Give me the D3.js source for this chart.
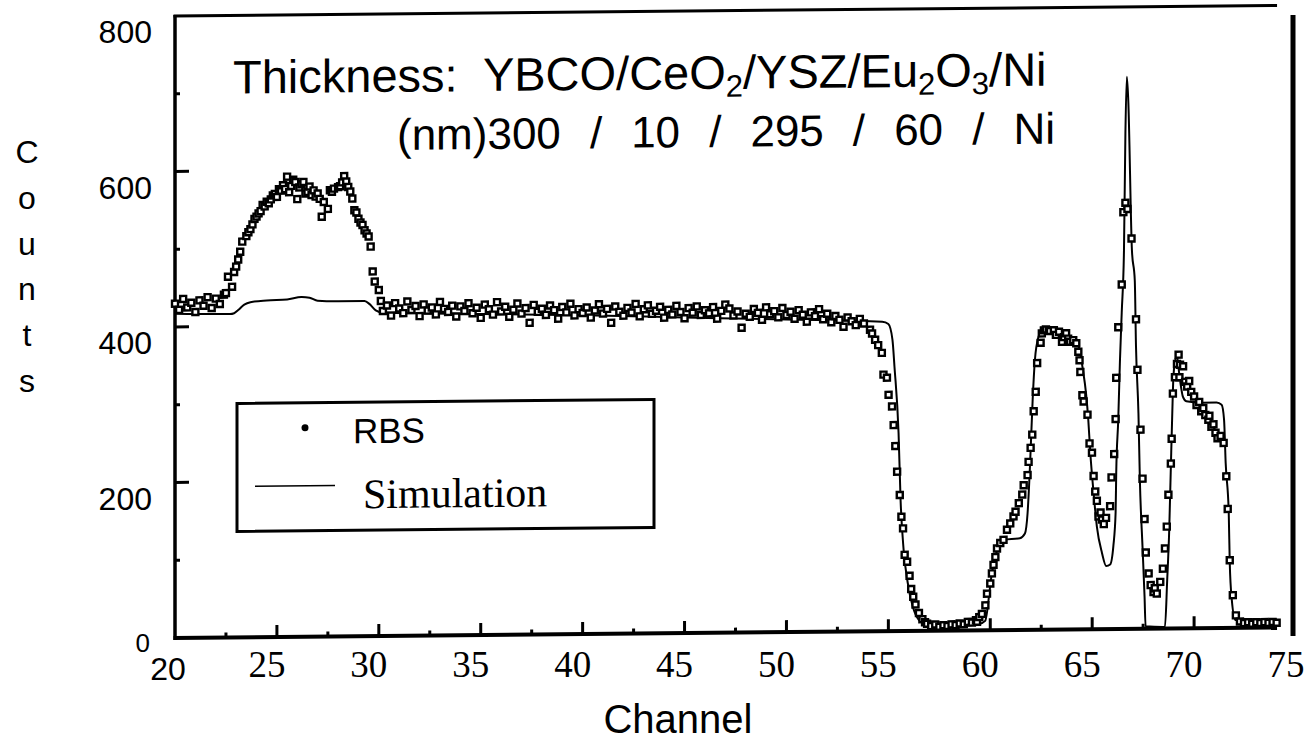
<!DOCTYPE html>
<html>
<head>
<meta charset="utf-8">
<script src="https://cdn.jsdelivr.net/npm/d3@7/dist/d3.min.js"></script>
<style>
  body { margin: 0; background: #fff; }
  svg { display: block; }
  text { fill: #000; white-space: pre; }
</style>
</head>
<body>
<svg id="chart" width="1310" height="747"></svg>
<script>
// ---- values ----
const xLabels = [20, 25, 30, 35, 40, 45, 50, 55, 60, 65, 70, 75];
const xMajor = [25, 30, 35, 40, 45, 50, 55, 60, 65, 70];
const xMinor = [22.5, 27.5, 32.5, 37.5, 42.5, 47.5, 52.5, 57.5, 62.5, 67.5, 72.5];
const yLabels = [0, 200, 400, 600, 800];
const yMajor = [200, 400, 600];
const yMinor = [100, 300, 500, 700];
const yAxisLetters = ['C', 'o', 'u', 'n', 't', 's'];

// RBS counts on a regular channel grid (start, step, counts)
const rbsLow = { start: 20.0, step: 0.2, counts: [430, 422, 436, 425, 431, 419, 434, 427, 438, 424, 436, 429, 441] };
const rbsPlateau = { start: 30.2, step: 0.2, counts: [
  418, 425, 412, 428, 421, 415, 430, 419, 424, 411,
  426, 418, 422, 413, 429, 420, 416, 424, 410, 423,
  417, 427, 414, 421, 408, 425, 419, 412, 428, 416,
  422, 409, 418, 426, 413, 420, 401, 424, 415, 419,
  411, 423, 417, 406, 421, 414, 425, 410, 418, 413,
  420, 407, 416, 424, 412, 418, 400, 421, 414, 409,
  419, 413, 424, 408, 417, 422, 411, 415, 420, 406,
  416, 410, 421, 413, 405, 418, 412, 420, 409, 415,
  411, 419, 404, 414, 422, 417, 408, 413, 392, 410,
  406, 416, 411, 402, 418, 409, 413, 405, 417, 408,
  412, 403, 414, 408, 399, 411, 406, 415, 402, 409,
  398, 406, 401, 392, 404, 399, 394, 402, 396] };
const rbsFloor = { start: 56.9, step: 0.2, counts: [9, 6, 8, 5, 7, 6, 8, 7, 9, 8, 11, 10, 13] };
const rbsTail = { start: 72.25, step: 0.2, counts: [8, 6, 7, 5, 7, 6, 7, 6, 7, 6] };

// RBS points read one by one where the spectrum changes fast [channel, counts]
const rbsHump = [
  [22.5, 443], [22.6, 464], [22.8, 451], [22.9, 470], [23.0, 477], [23.1, 486], [23.2, 496],
  [23.3, 509], [23.5, 516], [23.6, 521], [23.7, 525], [23.8, 531], [23.9, 538], [24.0, 541],
  [24.1, 545], [24.2, 548], [24.3, 556], [24.4, 554], [24.5, 560], [24.6, 558], [24.7, 563],
  [24.8, 568], [24.9, 570], [25.0, 566], [25.1, 576], [25.2, 574], [25.3, 581], [25.4, 576],
  [25.5, 592], [25.6, 572], [25.7, 580], [25.8, 588], [25.9, 585], [26.0, 563], [26.1, 578],
  [26.2, 582], [26.3, 585], [26.4, 570], [26.5, 572], [26.6, 579], [26.7, 568], [26.8, 574],
  [26.9, 566], [27.0, 570], [27.1, 563], [27.2, 540], [27.3, 559], [27.5, 550], [27.6, 574],
  [27.7, 572], [27.8, 576], [28.0, 578], [28.1, 579], [28.2, 584], [28.3, 592], [28.4, 585],
  [28.5, 578], [28.6, 572], [28.7, 563], [28.8, 548], [28.9, 545], [29.0, 537], [29.1, 532],
  [29.2, 529], [29.3, 522], [29.4, 518], [29.5, 514], [29.6, 501], [29.7, 469], [29.8, 456],
  [30.0, 445], [30.1, 431]
];
const rbsEdge = [
  [54.1, 388], [54.2, 383], [54.35, 375], [54.5, 368], [54.68, 358], [54.76, 330], [54.93, 326],
  [55.01, 304], [55.18, 289], [55.26, 265], [55.34, 238], [55.43, 205], [55.56, 175], [55.64, 147],
  [55.72, 132], [55.8, 98], [55.92, 89], [56.04, 71], [56.12, 54], [56.22, 44], [56.33, 34],
  [56.5, 23], [56.67, 15], [56.8, 11]
];
const rbsPeaks = [
  [59.35, 11], [59.46, 17], [59.59, 21], [59.76, 32], [59.84, 47], [60.0, 60], [60.08, 73],
  [60.16, 84], [60.25, 94], [60.33, 105], [60.49, 112], [60.65, 116], [60.82, 129], [60.98, 137],
  [61.14, 146], [61.24, 152], [61.4, 163], [61.57, 174], [61.64, 186], [61.83, 199], [61.88, 216],
  [61.98, 234], [62.06, 251], [62.13, 281], [62.23, 306], [62.3, 343], [62.47, 369], [62.53, 381],
  [62.63, 385], [62.73, 386], [62.87, 385], [62.93, 384], [63.12, 385], [63.22, 379], [63.37, 383],
  [63.52, 370], [63.62, 376], [63.72, 381], [63.82, 374], [63.92, 370], [64.07, 372], [64.22, 368],
  [64.32, 357], [64.38, 346], [64.42, 331], [64.52, 301], [64.58, 293], [64.77, 276], [64.87, 239],
  [64.99, 227], [65.07, 197], [65.15, 177], [65.23, 165], [65.31, 145], [65.41, 150], [65.48, 141],
  [65.57, 135], [65.68, 143], [65.88, 158], [65.95, 195], [66.08, 225], [66.15, 270], [66.18, 323],
  [66.28, 388], [66.45, 443], [66.53, 536], [66.63, 548], [66.73, 540], [66.93, 502], [67.15, 398],
  [67.22, 333], [67.37, 256], [67.47, 193], [67.57, 141], [67.63, 98], [67.77, 71], [67.87, 56],
  [68.01, 47], [68.07, 52], [68.17, 45], [68.34, 60], [68.47, 77], [68.57, 103], [68.66, 131],
  [68.74, 172], [68.86, 212], [68.9, 244], [68.96, 302], [69.06, 323], [69.16, 340], [69.24, 352],
  [69.28, 323], [69.31, 339], [69.46, 337], [69.56, 317], [69.66, 311], [69.76, 318], [69.86, 304],
  [70.0, 298], [70.12, 287], [70.25, 291], [70.35, 279], [70.45, 283], [70.55, 274], [70.7, 268],
  [70.75, 273], [70.85, 259], [70.95, 262], [71.05, 251], [71.15, 244], [71.3, 247], [71.45, 238],
  [71.58, 195], [71.65, 153], [71.75, 87], [71.9, 42], [72.05, 16]
];

// simulated spectrum [channel, counts]
const simulation = [
  [20, 417], [22.7, 416], [22.9, 417], [23.1, 421], [23.4, 428], [23.7, 431], [24.5, 433],
  [25.5, 434], [26.2, 437], [26.6, 436], [27.0, 432], [28.0, 431], [29.3, 431], [29.55, 427],
  [29.85, 419], [30.2, 416], [35, 413], [40, 410], [45, 406], [50, 402], [54.7, 398],
  [55.0, 395], [55.2, 375], [55.3, 340], [55.5, 255], [55.6, 168], [55.75, 104], [55.95, 62],
  [56.2, 31], [56.5, 14], [56.9, 8], [57.7, 5], [58.7, 6], [59.45, 8], [59.75, 12], [59.85, 25],
  [59.92, 40], [60.06, 70], [60.25, 95], [60.45, 110], [60.65, 116], [61.45, 118], [61.7, 124],
  [61.83, 150], [61.93, 200], [61.98, 231], [62.08, 296], [62.19, 347], [62.37, 377], [62.62, 388],
  [62.92, 386], [63.62, 378], [64.22, 370], [64.42, 355], [64.52, 338], [64.7, 303], [64.81, 269],
  [64.91, 226], [65.07, 175], [65.23, 132], [65.48, 98], [65.69, 81], [65.88, 83], [66.04, 107],
  [66.15, 150], [66.18, 201], [66.28, 270], [66.36, 343], [66.45, 407], [66.56, 487], [66.63, 637],
  [66.7, 710], [66.77, 680], [66.95, 487], [67.09, 448], [67.15, 363], [67.27, 277], [67.34, 191],
  [67.47, 105], [67.57, 41], [67.62, 3], [68.57, 2], [68.68, 62], [68.78, 127], [68.86, 208],
  [68.93, 277], [68.98, 320], [69.06, 343], [69.16, 350], [69.26, 330], [69.38, 307], [69.45, 298],
  [69.62, 292], [70.35, 290], [71.1, 290], [71.35, 287], [71.47, 268], [71.55, 212], [71.7, 148],
  [71.75, 83], [71.85, 36], [72.03, 10], [72.5, 9], [73.3, 10], [74.07, 10]
];

function block(b) {
  return b.counts.map((v, i) => [b.start + i * b.step, v]);
}
const rbs = [].concat(block(rbsLow), rbsHump, block(rbsPlateau), rbsEdge,
  block(rbsFloor), rbsPeaks, block(rbsTail));

// ---- drawing ----
const svg = d3.select('#chart');
svg.append('rect').attr('width', 1310).attr('height', 747).attr('fill', '#fff');

const x = d3.scaleLinear().domain([20, 75]).range([175, 1296]);
const y = d3.scaleLinear().domain([0, 800]).range([638, 16]);
const xEnd = 74.07; // where the drawn frame stops

// the scanned frame leans a little: shear the plot area
const tilt = 0.0096;
const g = svg.append('g')
  .attr('transform', `matrix(1,${-tilt},0,1,0,${(tilt * x(20)).toFixed(3)})`);

const sans = 'Liberation Sans, Arial, sans-serif';
const serif = 'Liberation Serif, Times New Roman, serif';

// frame
g.append('line')
  .attr('x1', x(20)).attr('x2', x(20)).attr('y1', y(800) - 1).attr('y2', y(0) + 2)
  .attr('stroke', '#000').attr('stroke-width', 3.5);
g.append('line')
  .attr('x1', x(20) - 1.5).attr('x2', x(xEnd)).attr('y1', y(0)).attr('y2', y(0))
  .attr('stroke', '#000').attr('stroke-width', 4);
g.append('line')
  .attr('x1', x(20) - 1.5).attr('x2', x(xEnd)).attr('y1', y(800)).attr('y2', y(800))
  .attr('stroke', '#000').attr('stroke-width', 3);
svg.append('line')
  .attr('x1', 1293).attr('x2', 1293).attr('y1', 15).attr('y2', 636)
  .attr('stroke', '#000').attr('stroke-width', 5);

// ticks, pointing into the plot
g.selectAll('.ytick').data(yMajor.map(v => [v, 14]).concat(yMinor.map(v => [v, 5])))
  .join('line')
  .attr('x1', x(20)).attr('x2', d => x(20) + d[1])
  .attr('y1', d => y(d[0])).attr('y2', d => y(d[0]))
  .attr('stroke', '#000').attr('stroke-width', 3);
g.selectAll('.xtick').data(xMajor.map(v => [v, 12]).concat(xMinor.map(v => [v, 5])))
  .join('line')
  .attr('x1', d => x(d[0])).attr('x2', d => x(d[0]))
  .attr('y1', y(0)).attr('y2', d => y(0) - d[1])
  .attr('stroke', '#000').attr('stroke-width', 3);

// simulation curve
const line = d3.line()
  .x(d => x(d[0]))
  .y(d => y(d[1]))
  .curve(d3.curveMonotoneX);
g.append('path')
  .datum(simulation)
  .attr('fill', 'none')
  .attr('stroke', '#000')
  .attr('stroke-width', 2)
  .attr('d', line);

// RBS data as open squares
g.selectAll('.rbs').data(rbs)
  .join('rect')
  .attr('x', d => x(d[0]) - 3)
  .attr('y', d => y(d[1]) - 3)
  .attr('width', 6).attr('height', 6)
  .attr('fill', '#fff').attr('stroke', '#000').attr('stroke-width', 2.4);

// title
const t1 = g.append('text').attr('x', 233).attr('y', 94)
  .attr('font-family', sans).attr('font-size', 47);
t1.append('tspan').text('Thickness:  YBCO/CeO');
t1.append('tspan').attr('font-size', 31).attr('dy', 8).text('2');
t1.append('tspan').attr('dy', -8).text('/YSZ/Eu');
t1.append('tspan').attr('font-size', 31).attr('dy', 8).text('2');
t1.append('tspan').attr('dy', -8).text('O');
t1.append('tspan').attr('font-size', 31).attr('dy', 8).text('3');
t1.append('tspan').attr('dy', -8).text('/Ni');
g.append('text').attr('x', 397).attr('y', 152)
  .attr('font-family', sans).attr('font-size', 44)
  .attr('word-spacing', 2.3)
  .text('(nm)300  /  10  /  295  /  60  /  Ni');

// legend
g.append('rect')
  .attr('x', 237).attr('y', 404).attr('width', 417).attr('height', 128)
  .attr('fill', '#fff').attr('stroke', '#000').attr('stroke-width', 3);
g.append('circle').attr('cx', 305).attr('cy', 429).attr('r', 3.5).attr('fill', '#000');
g.append('text').attr('x', 353).attr('y', 445)
  .attr('font-family', sans).attr('font-size', 35).text('RBS');
g.append('line').attr('x1', 255).attr('x2', 335).attr('y1', 487).attr('y2', 487)
  .attr('stroke', '#000').attr('stroke-width', 1.6);
g.append('text').attr('x', 363).attr('y', 510)
  .attr('font-family', serif).attr('font-size', 42).text('Simulation');

// y tick labels
svg.selectAll('.ylab').data(yLabels)
  .join('text')
  .attr('x', d => d === 0 ? 150 : 152)
  .attr('y', d => d === 0 ? 652 : y(d) + 27)
  .attr('text-anchor', 'end')
  .attr('font-family', sans)
  .attr('font-size', d => d === 0 ? 26 : 32)
  .text(d => d);

// x tick labels (first one in sans, the rest in serif, as on the scan)
svg.selectAll('.xlab').data(xLabels)
  .join('text')
  .attr('x', d => d === 20 ? 168 : x(d) - 10)
  .attr('y', d => d === 20 ? 680 : 677)
  .attr('text-anchor', 'middle')
  .attr('font-family', d => d === 20 ? sans : serif)
  .attr('font-size', d => d === 20 ? 32 : 37)
  .text(d => d);

// axis titles
svg.append('text').attr('x', 678).attr('y', 733)
  .attr('text-anchor', 'middle')
  .attr('font-family', sans).attr('font-size', 40).text('Channel');
svg.selectAll('.ylet').data(yAxisLetters)
  .join('text')
  .attr('x', 27)
  .attr('y', (d, i) => 163 + i * 45.8)
  .attr('text-anchor', 'middle')
  .attr('font-family', sans).attr('font-size', 32)
  .text(d => d);
</script>
</body>
</html>
